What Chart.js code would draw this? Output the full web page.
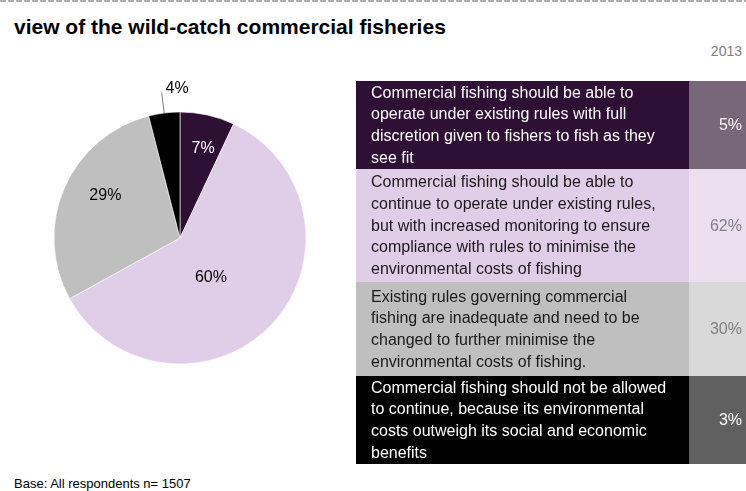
<!DOCTYPE html>
<html>
<head>
<meta charset="utf-8">
<script src="https://cdn.jsdelivr.net/npm/chart.js@4.4.1/dist/chart.umd.min.js"></script>
<style>
  body {
    margin: 0;
    width: 746px;
    height: 491px;
    overflow: hidden;
    background: #fff;
    position: relative;
    font-family: "Liberation Sans", Arial, sans-serif;
  }
  #rule {
    position: absolute;
    left: 0;
    top: 0;
    width: 746px;
    height: 2px;
    background: repeating-linear-gradient(to right, #b0b0b0 0 6px, transparent 6px 8px);
  }
  #title {
    position: absolute;
    left: 14px;
    top: 15px;
    font-size: 21px;
    font-weight: bold;
    color: #000;
    white-space: nowrap;
  }
  #year {
    position: absolute;
    right: 4px;
    top: 43px;
    font-size: 14px;
    color: #808080;
  }
  #pie-wrap {
    position: absolute;
    left: 2px;
    top: 60px;
    width: 356px;
    height: 356px;
  }
  #base {
    position: absolute;
    left: 14px;
    top: 476px;
    font-size: 13px;
    color: #000;
  }
  #answers {
    position: absolute;
    left: 356px;
    top: 81px;
    border-collapse: collapse;
    font-size: 16px;
  }
  #answers td {
    padding: 0;
    vertical-align: middle;
  }
  #answers td.txt {
    width: 318px;
    padding-left: 15px;
    line-height: 21.7px;
  }
  #answers td.val {
    width: 53px;
    padding-right: 4px;
    text-align: right;
  }
</style>
</head>
<body>
<div id="rule"></div>
<div id="title">view of the wild-catch commercial fisheries</div>
<div id="year">2013</div>
<div id="pie-wrap"><canvas id="pie"></canvas></div>
<table id="answers"><tbody></tbody></table>
<div id="base">Base: All respondents n= 1507</div>

<script>
// Pie shares (%), clockwise from 12 o'clock
const pieLabels = ['Full discretion', 'Increased monitoring', 'Rules need changing', 'Should not continue'];
const pieValues = [7, 60, 29, 4];

// Answer options, one array of lines per row
const answerLines = [
  ['Commercial fishing should be able to', 'operate under existing rules with full', 'discretion given to fishers to fish as they', 'see fit'],
  ['Commercial fishing should be able to', 'continue to operate under existing rules,', 'but with increased monitoring to ensure', 'compliance with rules to minimise the', 'environmental costs of fishing'],
  ['Existing rules governing commercial', 'fishing are inadequate and need to be', 'changed to further minimise the', 'environmental costs of fishing.'],
  ['Commercial fishing should not be allowed', 'to continue, because its environmental', 'costs outweigh its social and economic', 'benefits']
];
const answerValues = [5, 62, 30, 3];

// Colours per category
const sliceColors = ['#2d1033', '#e0cde7', '#bfbfbf', '#000000'];
const valueCellColors = ['#776779', '#ebdff0', '#d9d9d9', '#606060'];
const textColors = ['#ffffff', '#1a1a1a', '#1a1a1a', '#ffffff'];
const valueTextColors = ['#ffffff', '#808080', '#808080', '#ffffff'];
const rowHeights = [88, 113, 94, 88];

// Build the answer table
const tbody = document.querySelector('#answers tbody');
answerLines.forEach((lines, i) => {
  const tr = document.createElement('tr');
  tr.style.height = rowHeights[i] + 'px';
  const txt = document.createElement('td');
  txt.className = 'txt';
  txt.style.background = sliceColors[i];
  txt.style.color = textColors[i];
  txt.innerHTML = lines.join('<br>');
  const val = document.createElement('td');
  val.className = 'val';
  val.style.background = valueCellColors[i];
  val.style.color = valueTextColors[i];
  val.textContent = answerValues[i] + '%';
  tr.appendChild(txt);
  tr.appendChild(val);
  tbody.appendChild(tr);
});

// Label placement: fraction of the radius (null = outside with leader) and a nudge in degrees
const labelRadius = [0.73, 0.4, 0.68, null];
const labelTurn = [2, 9, 6, 0];
const labelColors = ['#ffffff', '#000000', '#000000', '#000000'];

const sliceLabels = {
  id: 'sliceLabels',
  afterDatasetsDraw(chart) {
    const ctx = chart.ctx;
    const meta = chart.getDatasetMeta(0);
    ctx.save();
    ctx.font = '16px "Liberation Sans", Arial, sans-serif';
    meta.data.forEach((arc, i) => {
      const { x, y, startAngle, endAngle, outerRadius } = arc.getProps(['x', 'y', 'startAngle', 'endAngle', 'outerRadius'], true);
      const mid = (startAngle + endAngle) / 2 + labelTurn[i] * Math.PI / 180;
      const text = pieValues[i] + '%';
      const cos = Math.cos(mid), sin = Math.sin(mid);
      if (labelRadius[i] !== null) {
        const r = outerRadius * labelRadius[i];
        ctx.fillStyle = labelColors[i];
        ctx.textAlign = 'center';
        ctx.textBaseline = 'middle';
        ctx.fillText(text, x + cos * r, y + sin * r);
      } else {
        // small slice: leader line out to the label
        const x0 = x + cos * outerRadius, y0 = y + sin * outerRadius;
        const x1 = x + cos * outerRadius * 1.165, y1 = y + sin * outerRadius * 1.165;
        ctx.strokeStyle = '#7f7f7f';
        ctx.lineWidth = 1;
        ctx.beginPath();
        ctx.moveTo(x0, y0);
        ctx.lineTo(x1, y1);
        ctx.stroke();
        ctx.fillStyle = labelColors[i];
        ctx.textAlign = 'left';
        ctx.textBaseline = 'middle';
        ctx.fillText(text, x1 + 4, y1 - 4);
      }
    });
    ctx.restore();
  }
};

new Chart(document.getElementById('pie'), {
  type: 'pie',
  data: {
    labels: pieLabels,
    datasets: [{
      data: pieValues,
      backgroundColor: sliceColors,
      borderColor: '#ffffff',
      borderWidth: 0.6,
      radius: 126
    }]
  },
  options: {
    responsive: true,
    maintainAspectRatio: false,
    animation: false,
    layout: { padding: 0 },
    plugins: {
      legend: { display: false },
      tooltip: { enabled: false }
    }
  },
  plugins: [sliceLabels]
});
</script>
</body>
</html>
